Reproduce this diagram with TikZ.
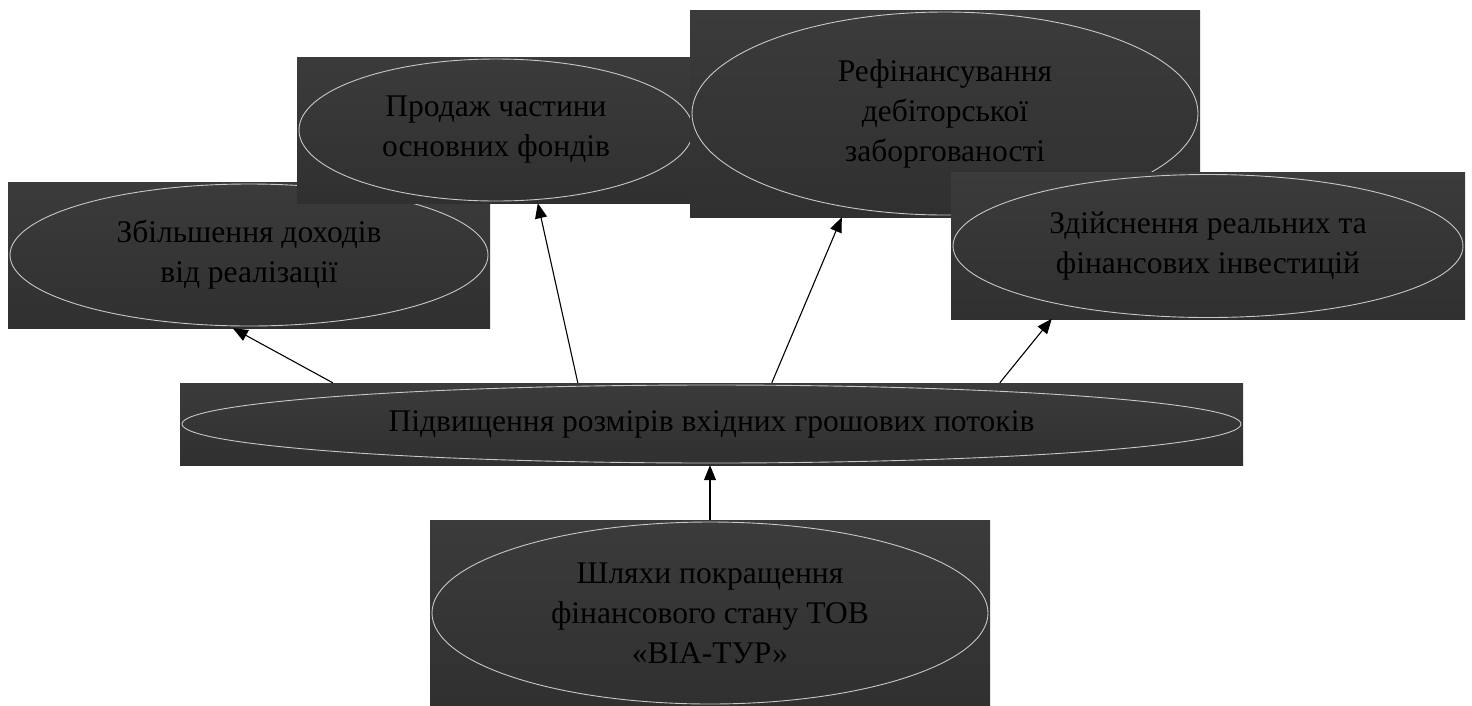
\documentclass[tikz,border=0pt]{standalone}
\usepackage{fontspec}
\setmainfont{Liberation Serif}
\usetikzlibrary{shapes.geometric,arrows.meta}
\definecolor{boxtop}{HTML}{3B3B3B}
\definecolor{boxbot}{HTML}{303030}
\definecolor{ellline}{HTML}{C8C8C8}
\definecolor{txt}{HTML}{000000}
\tikzset{
  box/.style={rectangle, draw=none, top color=boxtop, bottom color=boxbot, inner sep=0pt},
  ell/.style={ellipse, draw=ellline, line width=0.9pt, inner sep=0pt, align=center,
    text=txt, font=\fontsize{31.5}{40}\selectfont},
  arr/.style={draw=black, line width=1.1pt, -{Triangle[length=15pt,width=12pt]}}
}
\begin{document}
\begin{tikzpicture}[x=1pt,y=-1pt]
\useasboundingbox (0,0) rectangle (1472,705);
% box 1
\node[box, minimum width=482pt, minimum height=146pt] (b1) at (249,255) {};
\node[ell, minimum width=478pt, minimum height=142pt] (e1) at (b1.center) {Збільшення доходів\\від реалізації};
% box 2
\node[box, minimum width=398pt, minimum height=146pt] (b2) at (496,130) {};
\node[ell, minimum width=394pt, minimum height=142pt] (e2) at (b2.center) {Продаж частини\\основних фондів};
% box 3
\node[box, minimum width=510pt, minimum height=207pt] (b3) at (945,113.5) {};
\node[ell, minimum width=506pt, minimum height=203pt] (e3) at (b3.center) {Рефінансування\\дебіторської\\заборгованості};
% box 4
\node[box, minimum width=514pt, minimum height=147pt] (b4) at (1208,246) {};
\node[ell, minimum width=510pt, minimum height=143pt] (e4) at (b4.center) {Здійснення реальних та\\фінансових інвестицій};
% box 5
\node[box, minimum width=1063pt, minimum height=82pt] (b5) at (711.5,424) {};
\node[ell, minimum width=1059pt, minimum height=78pt] (e5) at (b5.center) {Підвищення розмірів вхідних грошових потоків};
% box 6
\node[box, minimum width=560pt, minimum height=186pt] (b6) at (710,613) {};
\node[ell, minimum width=556pt, minimum height=182pt] (e6) at (b6.center) {Шляхи покращення\\фінансового стану ТОВ\\«ВІА-ТУР»};
% connectors
\draw[arr] ([xshift=153pt]b5.north west) -- ([xshift=225pt]b1.south west);
\draw[arr] ([xshift=398pt]b5.north west) -- ([xshift=241pt]b2.south west);
\draw[arr] ([xshift=592pt]b5.north west) -- ([xshift=152pt]b3.south west);
\draw[arr] ([xshift=820pt]b5.north west) -- ([xshift=101pt,yshift=1pt]b4.south west);
\draw[arr] (b6.north) -- (b6.north |- b5.south);
\end{tikzpicture}
\end{document}
